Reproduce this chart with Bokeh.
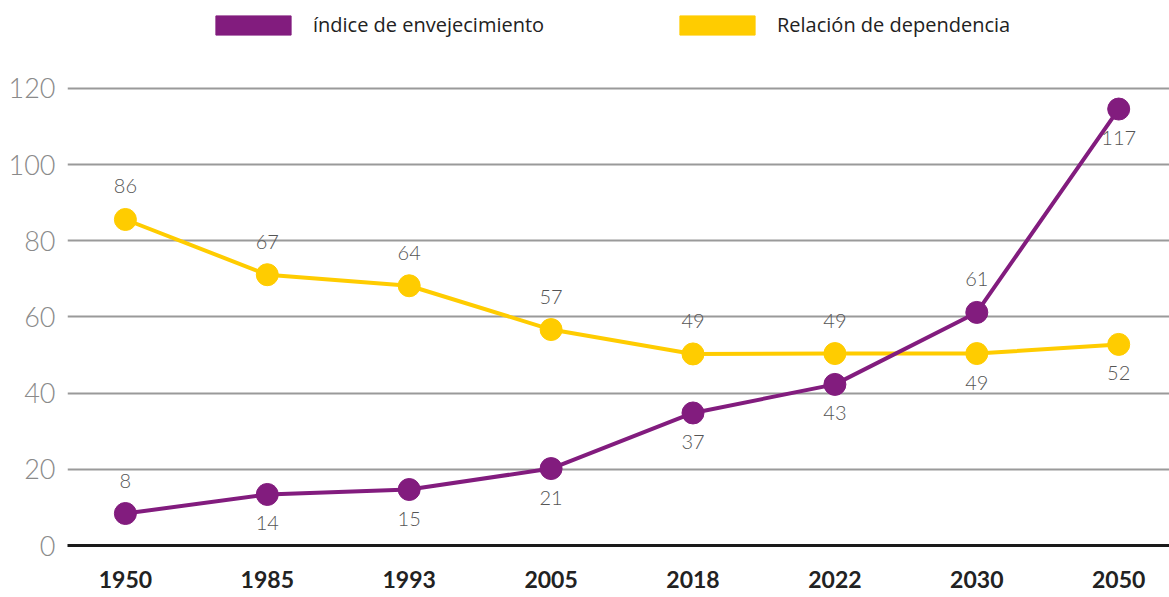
from bokeh.plotting import figure
from bokeh.models import ColumnDataSource, Range1d, FixedTicker, Legend, LegendItem
from bokeh.core.properties import value
from bokeh.embed import file_html
from bokeh.resources import INLINE

# ---- data ----
years = ["1950", "1985", "1993", "2005", "2018", "2022", "2030", "2050"]
envejecimiento = [8.4, 13.4, 14.7, 20.2, 34.8, 42.3, 61.2, 114.6]
envejecimiento_labels = ["8", "14", "15", "21", "37", "43", "61", "117"]
envejecimiento_place = ["above", "below", "below", "below", "below", "below", "above", "below"]
dependencia = [85.6, 71.1, 68.2, 56.7, 50.3, 50.4, 50.4, 52.8]
dependencia_labels = ["86", "67", "64", "57", "49", "49", "49", "52"]
dependencia_place = ["above", "above", "above", "above", "above", "above", "below", "below"]
y_ticks = [0, 20, 40, 60, 80, 100, 120]
series_names = ["índice de envejecimiento", "Relación de dependencia"]

PURPLE = "#821C7E"
YELLOW = "#FFCC00"
OFFSETS = {"above": -33, "below": 29}
NAN = float("nan")

xs = list(range(len(years)))

p = figure(width=1169, height=597, output_backend="svg", toolbar_location=None,
           x_range=Range1d(-0.408, 7.358), y_range=Range1d(0, 143.1),
           min_border_left=67, min_border_right=0, min_border_top=0, min_border_bottom=52)
p.outline_line_color = None
p.background_fill_color = "white"
p.border_fill_color = "white"

# grid
p.xgrid.grid_line_color = None
p.ygrid.grid_line_color = "#9a9a9a"
p.ygrid.grid_line_width = 2
p.yaxis.ticker = FixedTicker(ticks=y_ticks)
p.ygrid.ticker = FixedTicker(ticks=y_ticks)

# y axis
p.yaxis.axis_line_color = None
p.yaxis.major_tick_line_color = None
p.yaxis.minor_tick_line_color = None
p.yaxis.major_tick_out = 0
p.yaxis.major_tick_in = 0
p.yaxis.major_label_standoff = 12
p.yaxis.major_label_text_font = "Lato Light"
p.yaxis.major_label_text_font_size = "27px"
p.yaxis.major_label_text_color = "#8a8a8a"

# x axis
p.xaxis.ticker = FixedTicker(ticks=xs)
p.xaxis.major_label_overrides = {i: y for i, y in zip(xs, years)}
p.xaxis.axis_line_color = "#1a1a1a"
p.xaxis.axis_line_width = 3
p.xaxis.major_tick_line_color = None
p.xaxis.minor_tick_line_color = None
p.xaxis.major_tick_out = 0
p.xaxis.major_tick_in = 0
p.xaxis.major_label_standoff = 25
p.xaxis.major_label_text_font = "Lato"
p.xaxis.major_label_text_font_style = "bold"
p.xaxis.major_label_text_font_size = "23px"
p.xaxis.major_label_text_color = "#222222"

def draw(vals, labels, place, color):
    src = ColumnDataSource(dict(x=xs, y=vals, t=labels, dy=[OFFSETS[k] for k in place]))
    p.line("x", "y", source=src, line_color=color, line_width=4)
    p.scatter("x", "y", source=src, size=22, fill_color=color, line_color=color)
    return src

src_d = draw(dependencia, dependencia_labels, dependencia_place, YELLOW)
src_e = draw(envejecimiento, envejecimiento_labels, envejecimiento_place, PURPLE)

for src in (src_d, src_e):
    p.text("x", "y", text="t", source=src, y_offset="dy",
           text_align="center", text_baseline="middle",
           text_font=value("Lato Light"), text_font_size="20px", text_color="#555555")

# legend (rectangles)
q1 = p.quad(left=[NAN], right=[NAN], top=[NAN], bottom=[NAN], fill_color=PURPLE, line_color=PURPLE)
q2 = p.quad(left=[NAN], right=[NAN], top=[NAN], bottom=[NAN], fill_color=YELLOW, line_color=YELLOW)
legend = Legend(items=[LegendItem(label=series_names[0], renderers=[q1]),
                       LegendItem(label=series_names[1], renderers=[q2])],
                location=(139, 507), orientation="horizontal",
                glyph_width=94, glyph_height=24, label_standoff=13, spacing=121,
                padding=0, margin=0, border_line_color=None, background_fill_alpha=0,
                label_text_font="Open Sans", label_text_font_size="20px",
                label_text_color="#222222", label_width=236, label_height=24)
p.add_layout(legend)

open("out.html", "w").write(file_html(p, INLINE))
